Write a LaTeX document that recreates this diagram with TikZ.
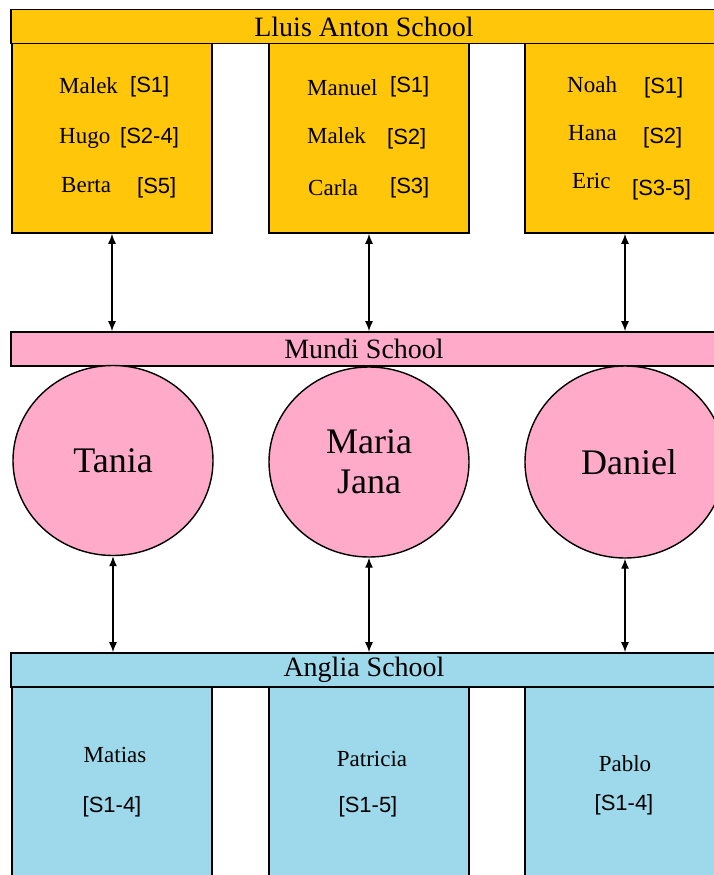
\documentclass[tikz,border=0pt]{standalone}
\usepackage{fontspec}
\setmainfont{Liberation Serif}
\setsansfont{Liberation Sans}
\usetikzlibrary{arrows.meta,shapes.geometric}
\definecolor{yel}{RGB}{255,198,10}
\definecolor{pnk}{RGB}{255,170,200}
\definecolor{blu}{RGB}{157,217,234}
\begin{document}
\begin{tikzpicture}[x=1pt,y=-1pt,
  bar/.style={draw=black,line width=1.6pt,inner sep=0pt,minimum width=706pt,minimum height=34pt,
    font=\fontsize{28}{30}\selectfont},
  box/.style={draw=black,line width=1.5pt,inner sep=0pt,minimum width=200pt},
  circ/.style={ellipse,draw=black,line width=1.4pt,fill=pnk,inner sep=0pt,minimum width=200pt,minimum height=190pt,
    align=center,font=\fontsize{36}{40}\selectfont},
  nm/.style={anchor=west,inner sep=0pt,font=\fontsize{23}{26}\selectfont,text height=16pt,text depth=5pt},
  sb/.style={anchor=west,inner sep=0pt,font=\sffamily\fontsize{22}{26}\selectfont,text height=16pt,text depth=5pt},
  cn/.style={inner sep=0pt,font=\fontsize{23}{26}\selectfont,text height=16pt,text depth=5pt},
  cs/.style={inner sep=0pt,font=\sffamily\fontsize{22}{26}\selectfont,text height=16pt,text depth=5pt},
  arr/.style={{Latex[length=10pt,width=8pt]}-{Latex[length=10pt,width=8pt]},line width=1.4pt}]
\useasboundingbox (0,0) rectangle (714,875);
\clip (0,0) rectangle (714,875);
% top school
\node[box,fill=yel,minimum height=190pt] (t1) at (112,138) {};
\node[box,fill=yel,minimum height=190pt] (t2) at (369,138) {};
\node[box,fill=yel,minimum height=190pt] (t3) at (625,138) {};
\node[bar,fill=yel] (lluis) at (364,26.5) {Lluis Anton School};
% names top
\node[nm] (n11) at (59,88) {Malek};
\node[sb] (s11) at (130,87) {[S1]};
\node[nm] (n12) at (59,138) {Hugo};
\node[sb] (s12) at (120,138) {[S2-4]};
\node[nm] (n13) at (61,187) {Berta};
\node[sb] (s13) at (137,188) {[S5]};
\node[nm] (n21) at (307,90) {Manuel};
\node[sb] (s21) at (390,87) {[S1]};
\node[nm] (n22) at (307,138) {Malek};
\node[sb] (s22) at (387,139) {[S2]};
\node[nm] (n23) at (308,190) {Carla};
\node[sb] (s23) at (390,188) {[S3]};
\node[nm] (n31) at (567,87) {Noah};
\node[sb] (s31) at (644,88) {[S1]};
\node[nm] (n32) at (568,135) {Hana};
\node[sb] (s32) at (643,138) {[S2]};
\node[nm] (n33) at (572,183) {Eric};
\node[sb] (s33) at (632,190) {[S3-5]};
% mundi
\node[bar,fill=pnk] (mundi) at (364,349) {Mundi School};
\node[circ] (c1) at (113,460.5) {Tania};
\node[circ] (c2) at (369,462) {Maria\\Jana};
\node[circ,minimum height=192pt] (c3) at (625,462) {\hspace*{8pt}Daniel};
% anglia
\node[box,fill=blu,minimum height=213pt] (b1) at (112,793.5) {};
\node[box,fill=blu,minimum height=213pt] (b2) at (369,793.5) {};
\node[box,fill=blu,minimum height=213pt] (b3) at (625,793.5) {};
\node[bar,fill=blu] (anglia) at (364,670) {Anglia School};
\node[cn] (m1) at (115,757) {Matias};
\node[cs] (m1s) at (112,807) {[S1-4]};
\node[cn] (m2) at (372,761) {Patricia};
\node[cs] (m2s) at (368,807) {[S1-5]};
\node[cn] (m3) at (625,766) {Pablo};
\node[cs] (m3s) at (624,805) {[S1-4]};
% arrows
\draw[arr] (t1.south) -- (t1.south |- mundi.north);
\draw[arr] (t2.south) -- (t2.south |- mundi.north);
\draw[arr] (t3.south) -- (t3.south |- mundi.north);
\draw[arr] (c1.south) -- (c1.south |- anglia.north);
\draw[arr] (c2.south) -- (c2.south |- anglia.north);
\draw[arr] (c3.south) -- (c3.south |- anglia.north);
\end{tikzpicture}
\end{document}
